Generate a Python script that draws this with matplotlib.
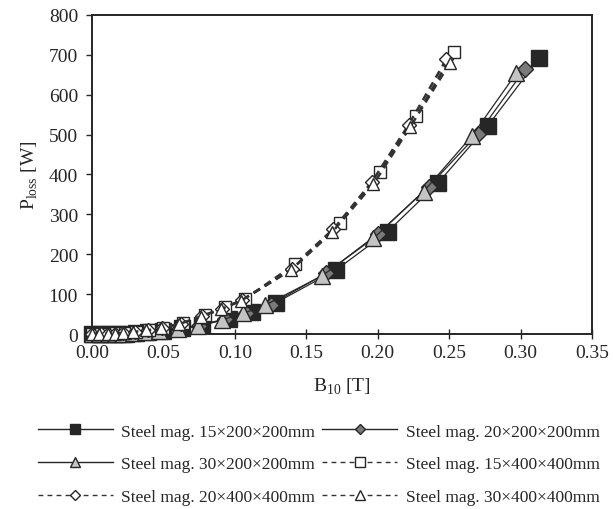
#!/usr/bin/env python3
"""Power loss versus flux density for steel magnet plates of several sizes."""

import matplotlib

matplotlib.use("Agg")
import matplotlib.pyplot as plt
from matplotlib.lines import Line2D

# B10 [T] and Ploss [W] for each plate size
b_15x200 = [0.000, 0.006, 0.012, 0.018, 0.024, 0.031, 0.039, 0.050, 0.063, 0.077,
            0.096, 0.112, 0.129, 0.171, 0.207, 0.242, 0.277, 0.313]
p_15x200 = [0, 0.1, 0.3, 0.7, 1.2, 2.5, 4.5, 8, 14, 22, 39, 56, 79, 161, 257, 378, 522, 692]

b_20x200 = [0.000, 0.006, 0.011, 0.017, 0.023, 0.030, 0.038, 0.048, 0.061, 0.075,
            0.093, 0.108, 0.125, 0.164, 0.200, 0.2355, 0.270, 0.303]
p_20x200 = [0, 0.1, 0.3, 0.6, 1.1, 2.3, 4.2, 7.5, 13, 21, 37, 53, 74, 153, 251, 369, 501, 664]

b_30x200 = [0.000, 0.005, 0.011, 0.016, 0.022, 0.029, 0.037, 0.047, 0.060, 0.074,
            0.091, 0.106, 0.121, 0.161, 0.197, 0.232, 0.266, 0.297]
p_30x200 = [0, 0.1, 0.3, 0.6, 1.0, 2.2, 4, 7, 12, 21, 36, 52, 72, 146, 240, 357, 497, 654]

b_15x400 = [0.000, 0.006, 0.011, 0.017, 0.023, 0.031, 0.040, 0.050, 0.064, 0.079,
            0.093, 0.107, 0.142, 0.1735, 0.2016, 0.227, 0.253]
p_15x400 = [0, 0.3, 0.8, 1.5, 3, 6, 10, 16, 27, 47, 67, 88, 175, 278, 405, 546, 707]

b_20x400 = [0.000, 0.006, 0.011, 0.016, 0.022, 0.030, 0.039, 0.049, 0.062, 0.077,
            0.091, 0.105, 0.140, 0.169, 0.196, 0.2215, 0.248]
p_20x400 = [0, 0.3, 0.8, 1.4, 2.8, 5.5, 9.5, 15, 26, 45, 64, 85, 163, 263, 382, 524, 689]

b_30x400 = [0.000, 0.005, 0.011, 0.016, 0.022, 0.029, 0.038, 0.048, 0.061, 0.076,
            0.090, 0.104, 0.139, 0.168, 0.197, 0.2225, 0.2505]
p_30x400 = [0, 0.3, 0.7, 1.4, 2.7, 5.3, 9, 14.5, 25, 44, 62, 83, 160, 255, 376, 518, 679]

labels = [
    "Steel mag. 15×200×200mm",
    "Steel mag. 20×200×200mm",
    "Steel mag. 30×200×200mm",
    "Steel mag. 15×400×400mm",
    "Steel mag. 20×400×400mm",
    "Steel mag. 30×400×400mm",
]

x_ticks = [0.00, 0.05, 0.10, 0.15, 0.20, 0.25, 0.30, 0.35]
y_ticks = [0, 100, 200, 300, 400, 500, 600, 700, 800]

INK = "#262626"


def main() -> None:
    plt.rcParams["font.family"] = ["Liberation Serif", "DejaVu Serif"]
    plt.rcParams["mathtext.fontset"] = "custom"
    plt.rcParams["mathtext.rm"] = "Liberation Serif"

    fig = plt.figure(figsize=(6.13, 5.10), dpi=100)
    ax = fig.add_axes([0.150, 0.343, 0.816, 0.626])

    series = [
        (b_15x200, p_15x200, "s", INK, "-", 11.5),
        (b_20x200, p_20x200, "D", "#7a7a7a", "-", 8),
        (b_30x200, p_30x200, "^", "#c4c4c4", "-", 11.5),
        (b_15x400, p_15x400, "s", "white", "--", 9),
        (b_20x400, p_20x400, "D", "white", "--", 7),
        (b_30x400, p_30x400, "^", "white", "--", 9),
    ]

    handles = []
    for i, (b, p, marker, face, style, size) in enumerate(series):
        dashed = style == "--"
        ax.plot(
            b, p,
            linestyle=style,
            dashes=(3.0, 2.2) if dashed else (None, None),
            color="#333333" if dashed else INK,
            linewidth=1.8 if dashed else 0.9,
            marker=marker,
            markersize=size,
            markerfacecolor=face,
            markeredgecolor=INK,
            markeredgewidth=1.0,
            clip_on=False,
            zorder=3 + i,
        )
        handles.append(
            Line2D(
                [], [],
                linestyle=style,
                dashes=(3.5, 3.0) if dashed else (None, None),
                color="#333333" if dashed else INK,
                linewidth=1.0,
                marker=marker,
                markersize=7 if marker != "D" else 5.5,
                markerfacecolor=face,
                markeredgecolor=INK,
                markeredgewidth=1.0,
            )
        )

    ax.set_xlim(0, 0.35)
    ax.set_ylim(0, 800)
    ax.set_xticks(x_ticks)
    ax.set_xticklabels([f"{t:.2f}" for t in x_ticks])
    ax.set_yticks(y_ticks)
    ax.tick_params(axis="x", direction="inout", length=7, width=1.0, colors=INK,
                   labelsize=14, pad=4)
    ax.tick_params(axis="y", direction="out", length=4, width=1.0, colors=INK,
                   labelsize=14, pad=6)
    for spine in ax.spines.values():
        spine.set_linewidth(1.4)
        spine.set_color(INK)

    ax.set_xlabel(r"B$_{10}$ [T]", fontsize=14, color=INK, labelpad=10)
    ax.set_ylabel(r"P$_{\rm loss}$ [W]", fontsize=14, color=INK, labelpad=6)

    # two columns filled row by row
    order = [0, 2, 4, 1, 3, 5]
    fig.legend(
        [handles[i] for i in order],
        [labels[i] for i in order],
        loc="center",
        bbox_to_anchor=(0.52, 0.088),
        ncol=2,
        frameon=False,
        fontsize=12.5,
        handlelength=4.3,
        handletextpad=0.5,
        columnspacing=0.4,
        labelspacing=0.95,
        labelcolor=INK,
    )

    fig.savefig("out.png", dpi=100)
    plt.close(fig)


if __name__ == "__main__":
    main()
